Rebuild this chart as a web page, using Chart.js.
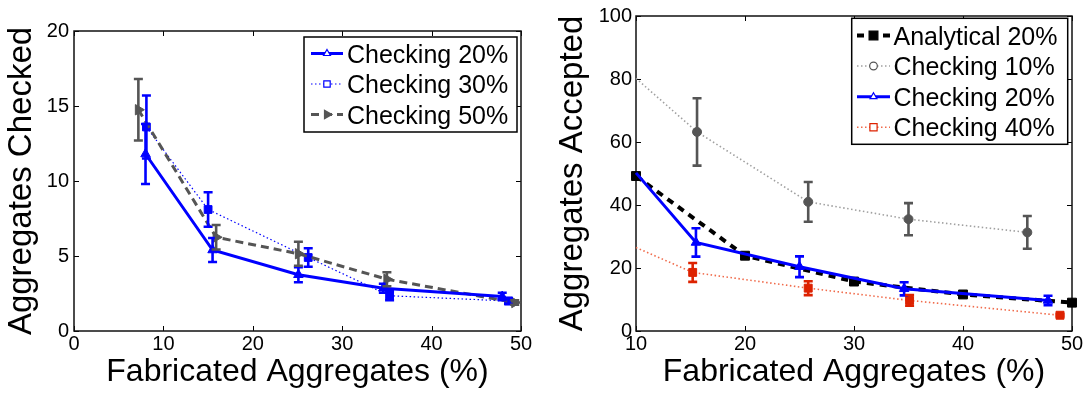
<!DOCTYPE html>
<html>
<head>
<meta charset="utf-8">
<title>Fabricated aggregates</title>
<script src="https://cdn.jsdelivr.net/npm/chart.js@4.4.1/dist/chart.umd.min.js"></script>
<style>
  html, body { margin: 0; padding: 0; background: #fff; }
  #wrap { position: relative; width: 1086px; height: 394px; overflow: hidden; }
  .panel { position: absolute; top: 0; width: 543px; height: 394px; }
</style>
</head>
<body>
<div id="wrap">
  <div class="panel" style="left:0"><canvas id="checkedChart"></canvas></div>
  <div class="panel" style="left:543px"><canvas id="acceptedChart"></canvas></div>
</div>
<script>
// ---- Left panel: aggregates checked ----
const checkedXTicks = [0, 10, 20, 30, 40, 50];
const checkedYTicks = [0, 5, 10, 15, 20];

const checked20X = [8.0, 15.5, 25.1, 34.6, 47.9];
const checked20Y = [11.8, 5.4, 3.75, 2.85, 2.3];
const checked20Err = [2.0, 0.8, 0.5, 0.3, 0.25];

const checked30X = [8.1, 15.0, 26.2, 35.3, 48.6];
const checked30Y = [13.6, 8.1, 4.9, 2.35, 2.0];
const checked30Err = [2.1, 1.15, 0.62, 0.3, 0.2];

const checked50X = [7.2, 15.9, 25.1, 35.0, 49.3];
const checked50Y = [14.75, 6.25, 5.15, 3.45, 1.9];
const checked50Err = [2.05, 0.82, 0.8, 0.47, 0.15];

// ---- Right panel: aggregates accepted ----
const acceptedXTicks = [10, 20, 30, 40, 50];
const acceptedYTicks = [0, 20, 40, 60, 80, 100];

const analytical20X = [10, 20, 30, 40, 50];
const analytical20Y = [49.2, 23.9, 15.7, 11.6, 9.0];

const accepted10X = [10, 15.6, 25.8, 35.0, 45.9];
const accepted10Y = [80.2, 63.2, 41.0, 35.5, 31.3];
const accepted10Err = [0, 10.7, 6.3, 5.1, 5.2];

const accepted20X = [10, 15.5, 25.0, 34.6, 47.8];
const accepted20Y = [50.2, 28.1, 20.4, 13.4, 9.7];
const accepted20Err = [0, 4.5, 3.3, 2.1, 1.5];

const accepted40X = [10, 15.2, 25.8, 35.1, 48.9];
const accepted40Y = [26.5, 18.6, 13.6, 9.7, 5.0];
const accepted40Err = [0, 3.0, 2.2, 1.7, 0.4];

const FONT = "'Liberation Sans', Arial, Helvetica, sans-serif";
const BLUE = '#0000ff';
const GREY = '#555555';

const toPoints = (xs, ys) => xs.map((x, i) => ({ x: x, y: ys[i] }));

// Box outline with inward ticks on all four sides
const framePlugin = {
  id: 'frame',
  beforeDatasetsDraw(chart) {
    const { ctx, chartArea: a, scales: { x, y } } = chart;
    const L = 5;
    ctx.save();
    ctx.strokeStyle = '#000';
    ctx.lineWidth = 1;
    ctx.beginPath();
    x.ticks.forEach(t => {
      const px = Math.round(x.getPixelForValue(t.value)) + 0.5;
      ctx.moveTo(px, a.bottom); ctx.lineTo(px, a.bottom - L);
      ctx.moveTo(px, a.top); ctx.lineTo(px, a.top + L);
    });
    y.ticks.forEach(t => {
      const py = Math.round(y.getPixelForValue(t.value)) + 0.5;
      ctx.moveTo(a.left, py); ctx.lineTo(a.left + L, py);
      ctx.moveTo(a.right, py); ctx.lineTo(a.right - L, py);
    });
    ctx.stroke();
    ctx.lineWidth = 1.5;
    ctx.strokeStyle = '#111';
    ctx.strokeRect(a.left, a.top, a.right - a.left, a.bottom - a.top);
    ctx.restore();
  }
};

// Vertical error bars with caps, placed through the y scale
const errorBarPlugin = {
  id: 'errorBars',
  afterDatasetsDraw(chart) {
    const { ctx, scales: { y } } = chart;
    chart.data.datasets.forEach((ds, i) => {
      if (!ds.errors) return;
      const meta = chart.getDatasetMeta(i);
      ctx.save();
      ctx.strokeStyle = ds.errorColor;
      ctx.lineWidth = 2.6;
      meta.data.forEach((pt, j) => {
        const e = ds.errors[j];
        if (!e) return;
        const v = ds.data[j].y;
        const top = y.getPixelForValue(v + e);
        const bot = y.getPixelForValue(v - e);
        ctx.beginPath();
        ctx.moveTo(pt.x, top); ctx.lineTo(pt.x, bot);
        ctx.moveTo(pt.x - 4.5, top); ctx.lineTo(pt.x + 4.5, top);
        ctx.moveTo(pt.x - 4.5, bot); ctx.lineTo(pt.x + 4.5, bot);
        ctx.stroke();
      });
      ctx.restore();
    });
  }
};

function drawMarker(ctx, style, rotation, r, x, y) {
  ctx.beginPath();
  if (style === 'rect') {
    const s = r * 0.8;
    ctx.rect(x - s, y - s, 2 * s, 2 * s);
  } else if (style === 'circle') {
    ctx.arc(x, y, r * 0.85, 0, Math.PI * 2);
  } else {
    const rot = (rotation || 0) * Math.PI / 180;
    for (let k = 0; k < 3; k++) {
      const ang = rot - Math.PI / 2 + k * 2 * Math.PI / 3;
      const px = x + Math.cos(ang) * r, py = y + Math.sin(ang) * r;
      if (k === 0) ctx.moveTo(px, py); else ctx.lineTo(px, py);
    }
    ctx.closePath();
  }
}

// Framed legend inside the plot, with line sample and marker per series
const boxLegendPlugin = {
  id: 'boxLegend',
  afterDraw(chart, args, opts) {
    const { ctx } = chart;
    const [x0, y0, x1, y1] = opts.box;
    ctx.save();
    ctx.fillStyle = '#fff';
    ctx.fillRect(x0, y0, x1 - x0, y1 - y0);
    ctx.strokeStyle = '#000';
    ctx.lineWidth = 1.5;
    ctx.strokeRect(x0, y0, x1 - x0, y1 - y0);
    chart.data.datasets.forEach((ds, i) => {
      const cy = opts.rows[i];
      const [lx0, lx1] = opts.lineX;
      ctx.save();
      ctx.strokeStyle = ds.borderColor;
      ctx.lineWidth = ds.borderWidth;
      ctx.setLineDash(ds.borderDash || []);
      ctx.beginPath();
      ctx.moveTo(lx0, cy); ctx.lineTo(lx1, cy);
      ctx.stroke();
      ctx.setLineDash([]);
      const mx = (lx0 + lx1) / 2;
      drawMarker(ctx, ds.pointStyle, ds.pointRotation, ds.legendRadius, mx, cy);
      ctx.fillStyle = ds.legendHollow ? '#fff' : ds.pointBackgroundColor;
      ctx.fill();
      ctx.strokeStyle = ds.pointBorderColor;
      ctx.lineWidth = 1.2;
      ctx.stroke();
      ctx.restore();
      ctx.fillStyle = '#000';
      ctx.font = `${opts.fontSize}px ${FONT}`;
      ctx.textBaseline = 'alphabetic';
      ctx.textAlign = 'left';
      ctx.fillText(ds.label, opts.textX, cy + opts.fontSize * 0.36);
    });
    ctx.restore();
  }
};

function xAxis(min, max, ticks, title) {
  return {
    type: 'linear', min: min, max: max,
    afterBuildTicks: s => { s.ticks = ticks.map(v => ({ value: v })); },
    afterFit: s => { s.height = 63; },
    grid: { display: false, drawTicks: false },
    border: { display: false },
    ticks: { color: '#000', font: { family: FONT, size: 20 }, padding: 1, maxRotation: 0, autoSkip: false },
    title: { display: true, text: title, color: '#000', font: { family: FONT, size: 32 }, padding: { top: 0, bottom: 3 } }
  };
}

function yAxis(min, max, ticks, title, width, titlePad, tickPad) {
  return {
    type: 'linear', min: min, max: max,
    afterBuildTicks: s => { s.ticks = ticks.map(v => ({ value: v })); },
    afterFit: s => { s.width = width; },
    grid: { display: false, drawTicks: false },
    border: { display: false },
    ticks: { color: '#000', font: { family: FONT, size: 20 }, padding: tickPad, autoSkip: false },
    title: { display: true, text: title, color: '#000', font: { family: FONT, size: 33 }, padding: { top: titlePad, bottom: 0 } }
  };
}

function series(label, xs, ys, style) {
  return Object.assign({
    label: label,
    data: toPoints(xs, ys),
    clip: false,
    pointBorderWidth: 1,
    tension: 0
  }, style);
}

const common = {
  responsive: true,
  maintainAspectRatio: false,
  animation: false,
  devicePixelRatio: 1,
  plugins: { legend: { display: false }, tooltip: { enabled: false } }
};

new Chart(document.getElementById('checkedChart'), {
  type: 'line',
  data: {
    datasets: [
      series('Checking 20%', checked20X, checked20Y, {
        borderColor: BLUE, borderWidth: 3, pointStyle: 'triangle', pointRadius: 5.5,
        pointBackgroundColor: BLUE, pointBorderColor: BLUE,
        errors: checked20Err, errorColor: BLUE, legendRadius: 4, legendHollow: true, order: 1
      }),
      series('Checking 30%', checked30X, checked30Y, {
        borderColor: BLUE, borderWidth: 1.2, borderDash: [1.5, 2.5], pointStyle: 'rect', pointRadius: 5.5,
        pointBackgroundColor: BLUE, pointBorderColor: BLUE,
        errors: checked30Err, errorColor: BLUE, legendRadius: 4, legendHollow: true, order: 3
      }),
      series('Checking 50%', checked50X, checked50Y, {
        borderColor: GREY, borderWidth: 3, borderDash: [8, 5], pointStyle: 'triangle', pointRotation: 90, pointRadius: 6,
        pointBackgroundColor: GREY, pointBorderColor: GREY,
        errors: checked50Err, errorColor: GREY, legendRadius: 5, legendHollow: false, order: 2
      })
    ]
  },
  options: Object.assign({}, common, {
    layout: { padding: { left: 0, right: 22, top: 31, bottom: 0 } },
    scales: {
      x: xAxis(0, 50, checkedXTicks, 'Fabricated Aggregates (%)'),
      y: yAxis(0, 20, checkedYTicks, 'Aggregates Checked', 74, 2, 5)
    },
    plugins: Object.assign({}, common.plugins, {
      boxLegend: { box: [304, 37, 517, 132], rows: [53.5, 84, 114.5], lineX: [311, 343], textX: 347, fontSize: 25 }
    })
  }),
  plugins: [framePlugin, errorBarPlugin, boxLegendPlugin]
});

new Chart(document.getElementById('acceptedChart'), {
  type: 'line',
  data: {
    datasets: [
      series('Analytical 20%', analytical20X, analytical20Y, {
        borderColor: '#000', borderWidth: 4, borderDash: [7, 6], pointStyle: 'rect', pointRadius: 6.3,
        pointBackgroundColor: '#000', pointBorderColor: '#000',
        legendRadius: 5.5, legendHollow: false, order: 3
      }),
      series('Checking 10%', accepted10X, accepted10Y, {
        borderColor: '#a0a0a0', borderWidth: 1.6, borderDash: [1.5, 2.5], pointStyle: 'circle',
        pointRadius: [0, 4.5, 4.5, 4.5, 4.5],
        pointBackgroundColor: GREY, pointBorderColor: GREY,
        errors: accepted10Err, errorColor: GREY, legendRadius: 4.5, legendHollow: true, order: 4
      }),
      series('Checking 20%', accepted20X, accepted20Y, {
        borderColor: BLUE, borderWidth: 3, pointStyle: 'triangle',
        pointRadius: [0, 5.5, 5.5, 5.5, 5.5],
        pointBackgroundColor: BLUE, pointBorderColor: BLUE,
        errors: accepted20Err, errorColor: BLUE, legendRadius: 4, legendHollow: true, order: 1
      }),
      series('Checking 40%', accepted40X, accepted40Y, {
        borderColor: '#f06a4a', borderWidth: 1.6, borderDash: [1.5, 2.5], pointStyle: 'rect',
        pointRadius: [0, 5.6, 5.6, 5.6, 5.6],
        pointBackgroundColor: '#dd2200', pointBorderColor: '#dd2200',
        errors: accepted40Err, errorColor: '#dd2200', legendRadius: 4.5, legendHollow: true, order: 2
      })
    ]
  },
  options: Object.assign({}, common, {
    layout: { padding: { left: 0, right: 14, top: 14, bottom: 0 } },
    scales: {
      x: xAxis(10, 50, acceptedXTicks, 'Fabricated Aggregates (%)'),
      y: yAxis(0, 100, acceptedYTicks, 'Aggregates Accepted', 93, 10, 4)
    },
    plugins: Object.assign({}, common.plugins, {
      boxLegend: { box: [308.7, 18.3, 524.7, 144.3], rows: [35.5, 66, 96.7, 127.3], lineX: [314, 347], textX: 350.5, fontSize: 25 }
    })
  }),
  plugins: [framePlugin, errorBarPlugin, boxLegendPlugin]
});
</script>
</body>
</html>
